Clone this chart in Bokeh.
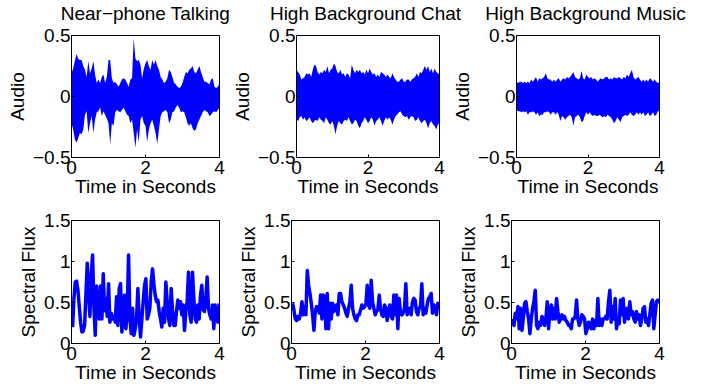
import numpy as np
from bokeh.plotting import figure
from bokeh.layouts import column, row
from bokeh.models import Range1d, FixedTicker, Label
from bokeh.embed import file_html
from bokeh.resources import INLINE

# ---------------- data ----------------
titles = ["Near\u2212phone Talking", "High Background Chat", "High Background Music"]
x_label = "Time in Seconds"
audio_label = "Audio"
flux_label = "Spectral Flux"
x_ticks = [0, 2, 4]
audio_ticks = [-0.5, 0, 0.5]
audio_tick_labels = ["\u22120.5", "0", "0.5"]
flux_ticks = [0, 0.5, 1, 1.5]
flux_tick_labels = ["0", "0.5", "1", "1.5"]
duration = [0, 4]

# waveform envelopes (upper / lower), read evenly across 0..4 s
talk_upper = [0.19,0.23,0.29,0.35,0.31,0.30,0.30,0.25,0.22,0.16,0.29,0.19,0.23,0.29,0.18,0.11,0.14,0.11,0.16,0.18,
              0.11,0.16,0.30,0.30,0.15,0.11,0.12,0.10,0.08,0.11,0.14,0.15,0.14,0.11,0.08,0.14,0.15,0.48,0.31,0.29,
              0.30,0.26,0.15,0.23,0.27,0.30,0.25,0.22,0.30,0.26,0.30,0.25,0.22,0.16,0.14,0.11,0.12,0.15,0.22,0.20,
              0.16,0.11,0.10,0.08,0.07,0.08,0.11,0.16,0.20,0.19,0.22,0.23,0.25,0.20,0.19,0.22,0.25,0.20,0.16,0.12,
              0.12,0.11,0.10,0.14,0.15,0.08,0.07,0.08,0.11]
talk_lower = [-0.22,-0.27,-0.35,-0.38,-0.34,-0.30,-0.31,-0.27,-0.15,-0.12,-0.30,-0.22,-0.16,-0.30,-0.19,-0.13,-0.12,-0.09,-0.16,-0.12,
              -0.15,-0.18,-0.22,-0.39,-0.22,-0.24,-0.13,-0.11,-0.12,-0.13,-0.11,-0.09,-0.12,-0.15,-0.16,-0.22,-0.19,-0.30,-0.42,-0.27,
              -0.37,-0.19,-0.16,-0.22,-0.24,-0.37,-0.27,-0.22,-0.19,-0.24,-0.30,-0.39,-0.27,-0.16,-0.13,-0.12,-0.11,-0.13,-0.22,-0.19,
              -0.13,-0.12,-0.09,-0.07,-0.09,-0.13,-0.12,-0.13,-0.17,-0.22,-0.24,-0.22,-0.26,-0.28,-0.27,-0.22,-0.19,-0.16,-0.13,-0.11,
              -0.12,-0.13,-0.16,-0.15,-0.13,-0.12,-0.13,-0.11,-0.09]
chat_upper = [0.22,0.20,0.18,0.14,0.15,0.16,0.19,0.18,0.19,0.16,0.22,0.26,0.25,0.20,0.18,0.20,0.19,0.22,0.20,0.25,
              0.19,0.22,0.23,0.27,0.25,0.20,0.19,0.22,0.18,0.19,0.16,0.19,0.18,0.15,0.26,0.22,0.19,0.22,0.20,0.22,
              0.19,0.20,0.18,0.22,0.19,0.23,0.20,0.18,0.19,0.16,0.18,0.16,0.20,0.19,0.18,0.16,0.18,0.16,0.15,0.19,
              0.16,0.14,0.12,0.12,0.14,0.15,0.12,0.12,0.14,0.14,0.12,0.14,0.15,0.16,0.19,0.16,0.20,0.19,0.22,0.25,
              0.22,0.25,0.20,0.23,0.19,0.23,0.20,0.19,0.18]
chat_lower = [-0.19,-0.20,-0.17,-0.16,-0.19,-0.17,-0.20,-0.19,-0.17,-0.20,-0.22,-0.20,-0.19,-0.20,-0.17,-0.19,-0.20,-0.22,-0.17,-0.19,
              -0.22,-0.23,-0.20,-0.24,-0.31,-0.24,-0.20,-0.22,-0.23,-0.20,-0.19,-0.20,-0.17,-0.20,-0.23,-0.22,-0.19,-0.20,-0.24,-0.26,
              -0.22,-0.20,-0.17,-0.19,-0.22,-0.20,-0.17,-0.19,-0.24,-0.20,-0.19,-0.17,-0.20,-0.24,-0.20,-0.17,-0.19,-0.17,-0.19,-0.23,
              -0.19,-0.16,-0.15,-0.13,-0.12,-0.15,-0.16,-0.17,-0.16,-0.19,-0.17,-0.16,-0.17,-0.20,-0.19,-0.17,-0.20,-0.22,-0.20,-0.19,
              -0.22,-0.26,-0.22,-0.20,-0.23,-0.24,-0.27,-0.23,-0.22]
music_upper = [0.12,0.11,0.12,0.12,0.11,0.12,0.11,0.12,0.11,0.14,0.12,0.14,0.16,0.12,0.15,0.14,0.15,0.16,0.19,0.15,
               0.14,0.14,0.12,0.14,0.12,0.14,0.15,0.12,0.14,0.15,0.14,0.16,0.15,0.16,0.18,0.20,0.16,0.15,0.14,0.15,
               0.21,0.15,0.14,0.18,0.16,0.15,0.16,0.14,0.15,0.14,0.12,0.14,0.15,0.14,0.15,0.16,0.16,0.14,0.15,0.14,
               0.16,0.15,0.15,0.16,0.15,0.14,0.16,0.15,0.18,0.16,0.19,0.22,0.16,0.14,0.15,0.16,0.14,0.12,0.14,0.12,
               0.14,0.12,0.15,0.14,0.12,0.14,0.12,0.11,0.12]
music_lower = [-0.11,-0.12,-0.12,-0.13,-0.12,-0.13,-0.12,-0.15,-0.13,-0.13,-0.12,-0.13,-0.15,-0.13,-0.16,-0.15,-0.15,-0.13,-0.13,-0.12,
               -0.13,-0.15,-0.13,-0.13,-0.15,-0.13,-0.15,-0.20,-0.16,-0.17,-0.19,-0.17,-0.16,-0.15,-0.17,-0.24,-0.17,-0.16,-0.15,-0.17,
               -0.21,-0.20,-0.16,-0.13,-0.15,-0.13,-0.15,-0.16,-0.15,-0.16,-0.16,-0.15,-0.16,-0.17,-0.16,-0.17,-0.15,-0.16,-0.17,-0.19,
               -0.22,-0.20,-0.17,-0.19,-0.21,-0.17,-0.16,-0.15,-0.16,-0.15,-0.13,-0.15,-0.16,-0.15,-0.13,-0.15,-0.13,-0.15,-0.13,-0.16,
               -0.15,-0.13,-0.16,-0.15,-0.13,-0.16,-0.15,-0.12,-0.12]

# spectral flux per analysis frame (frames evenly spaced from flux_start to flux_end seconds)
flux_start, flux_end = 0.03, 3.99
talk_flux = [0.20,0.55,0.75,0.76,0.65,0.45,0.26,0.14,0.15,0.22,0.60,0.98,0.60,0.33,0.85,1.08,0.45,0.10,0.70,0.45,
             0.30,0.70,0.30,0.85,0.40,0.55,0.33,0.73,0.26,0.37,0.30,0.33,0.26,0.57,0.22,0.67,0.73,0.14,0.39,0.59,
             0.18,0.39,1.08,0.30,0.12,0.43,0.10,0.18,0.30,0.67,0.30,0.08,0.30,0.51,0.71,0.79,0.30,0.35,0.43,0.75,
             0.91,0.73,0.59,0.51,0.53,0.39,0.30,0.20,0.43,0.26,0.75,0.51,0.30,0.22,0.67,0.41,0.22,0.22,0.39,0.53,
             0.43,0.51,0.35,0.47,0.16,0.39,0.51,0.87,0.35,0.26,0.87,0.55,0.30,0.26,0.47,0.30,0.59,0.71,0.41,0.39,
             0.55,0.81,0.43,0.35,0.30,0.47,0.18,0.47,0.30,0.26,0.49]
chat_flux = [0.49,0.41,0.30,0.28,0.33,0.30,0.37,0.51,0.35,0.45,0.35,0.89,0.71,0.61,0.49,0.35,0.16,0.39,0.45,0.43,
             0.37,0.59,0.30,0.59,0.57,0.18,0.61,0.18,0.49,0.30,0.49,0.39,0.45,0.47,0.35,0.61,0.61,0.51,0.47,0.43,
             0.37,0.33,0.43,0.51,0.71,0.43,0.35,0.30,0.28,0.35,0.35,0.41,0.47,0.43,0.45,0.47,0.71,0.47,0.43,0.77,
             0.51,0.43,0.35,0.39,0.41,0.59,0.43,0.35,0.33,0.47,0.43,0.28,0.39,0.47,0.33,0.30,0.59,0.35,0.59,0.18,
             0.55,0.37,0.35,0.37,0.43,0.73,0.35,0.41,0.43,0.35,0.51,0.55,0.53,0.39,0.35,0.43,0.45,0.73,0.35,0.43,
             0.37,0.47,0.55,0.57,0.61,0.37,0.47,0.45,0.35,0.49,0.47]
music_flux = [0.30,0.22,0.37,0.30,0.45,0.18,0.43,0.16,0.30,0.49,0.51,0.39,0.30,0.12,0.30,0.43,0.51,0.65,0.22,0.18,
              0.26,0.22,0.33,0.30,0.22,0.30,0.51,0.18,0.39,0.47,0.30,0.43,0.30,0.55,0.39,0.26,0.30,0.35,0.30,0.33,
              0.28,0.26,0.22,0.22,0.18,0.30,0.30,0.33,0.53,0.30,0.22,0.26,0.35,0.33,0.30,0.12,0.18,0.26,0.22,0.18,
              0.30,0.18,0.28,0.22,0.55,0.22,0.30,0.22,0.30,0.30,0.33,0.30,0.51,0.65,0.26,0.45,0.30,0.55,0.18,0.30,
              0.24,0.53,0.35,0.55,0.26,0.35,0.43,0.30,0.51,0.35,0.39,0.30,0.26,0.39,0.30,0.35,0.22,0.30,0.43,0.45,
              0.26,0.30,0.22,0.35,0.49,0.53,0.18,0.35,0.51,0.53,0.49]

# ---------------- style / layout ----------------
FONT = "Liberation Sans"
FS = "19px"
BLUE = "#0000ff"
col_widths = [228, 220, 268]
col_left = [71, 63, 63]
frame_w = 148
title_h = 24
title_anchor = 10.8   # vertical centre of the title text box, from the strip bottom
top_h, bot_h = 176, 190
top_border_top, top_frame_h = 11, 122
bot_border_top, bot_frame_h = 20, 123


def style_axis(ax, ticks, overrides=None):
    ax.ticker = FixedTicker(ticks=ticks)
    ax.axis_line_color = "black"
    ax.axis_line_width = 1
    ax.major_tick_line_color = "black"
    ax.major_tick_in = 3
    ax.major_tick_out = 0
    ax.minor_tick_line_color = None
    ax.major_label_text_font = FONT
    ax.major_label_text_font_size = FS
    ax.major_label_text_color = "black"
    ax.axis_label_text_font = FONT
    ax.axis_label_text_font_size = FS
    ax.axis_label_text_font_style = "normal"
    ax.axis_label_text_color = "black"
    if overrides:
        ax.major_label_overrides = overrides


def make_panel(i, height, border_top, frame_h, yr, yticks, ylabels, ylab):
    w = col_widths[i]
    left = col_left[i]
    right = w - left - frame_w
    bottom = height - border_top - frame_h
    p = figure(width=w, height=height, x_range=Range1d(*duration), y_range=Range1d(*yr),
               output_backend="svg", toolbar_location=None,
               min_border_left=left, min_border_right=right,
               min_border_top=border_top, min_border_bottom=bottom)
    p.grid.visible = False
    p.outline_line_color = "black"
    p.outline_line_width = 1
    p.outline_line_alpha = 1
    p.background_fill_color = "white"
    p.border_fill_color = "white"
    style_axis(p.xaxis[0], x_ticks)
    style_axis(p.yaxis[0], yticks, overrides={t: l for t, l in zip(yticks, ylabels)})
    p.xaxis[0].axis_label = x_label
    p.yaxis[0].axis_label = ylab
    p.xaxis[0].major_label_standoff = 3
    p.xaxis[0].axis_label_standoff = -1
    p.yaxis[0].major_label_standoff = 1
    p.yaxis[0].axis_label_standoff = 2
    return p


# title strip
total_w = sum(col_widths)
tp = figure(width=total_w, height=title_h, x_range=Range1d(0, total_w),
            y_range=Range1d(0, title_h), x_axis_type=None, y_axis_type=None,
            output_backend="svg", toolbar_location=None, min_border=0,
            outline_line_color=None)
tp.border_fill_color = "white"
x0 = 0
for i, t in enumerate(titles):
    cx = x0 + col_left[i] + frame_w / 2
    tp.add_layout(Label(x=cx, y=title_anchor, text=t, text_align="center", text_baseline="middle",
                        text_font=FONT, text_font_size=FS, text_color="black"))
    x0 += col_widths[i]

audio = [(talk_upper, talk_lower), (chat_upper, chat_lower), (music_upper, music_lower)]
fluxes = [talk_flux, chat_flux, music_flux]

top_row = []
bot_row = []
for i in range(3):
    up, lo = audio[i]
    t = np.linspace(duration[0], duration[1], len(up))
    p = make_panel(i, top_h, top_border_top, top_frame_h, (-0.5, 0.5), audio_ticks, audio_tick_labels, audio_label)
    p.varea(x=t, y1=lo, y2=up, fill_color=BLUE, fill_alpha=1)
    top_row.append(p)

    f = fluxes[i]
    tf = np.linspace(flux_start, flux_end, len(f))
    q = make_panel(i, bot_h, bot_border_top, bot_frame_h, (0, 1.5), flux_ticks, flux_tick_labels, flux_label)
    q.line(tf, f, line_color=BLUE, line_width=3.5, line_join="round")
    bot_row.append(q)

layout = column(tp, row(*top_row), row(*bot_row))
open("out.html", "w").write(file_html(layout, INLINE))
